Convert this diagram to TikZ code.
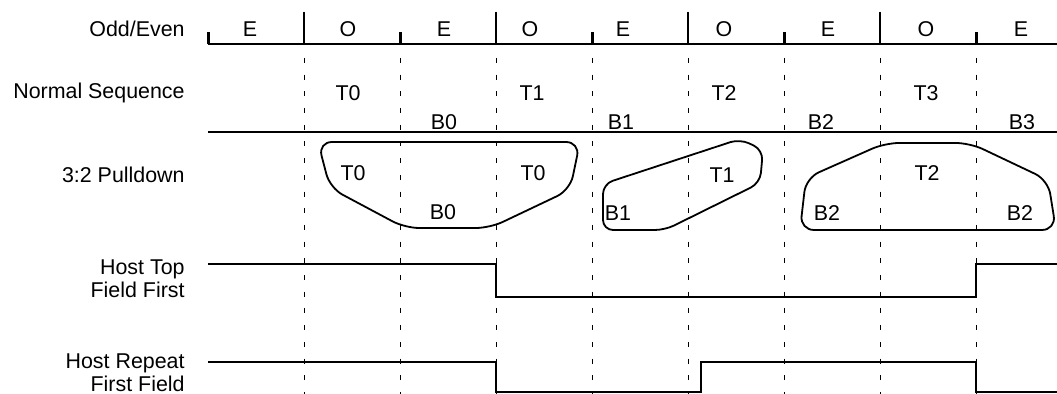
\documentclass[tikz,border=0pt]{standalone}
\usepackage{fontspec}
\setmainfont{Liberation Sans}
\usepackage{tikz}

\tikzset{
  rowlabel/.style={anchor=east, align=right, inner sep=0pt},
  field/.style={inner sep=0pt},
  wave/.style={line width=1pt, line join=miter},
  slot/.style={line width=0.5pt, dash pattern=on 2.5pt off 5.85pt},
  group/.style={line width=0.9pt, rounded corners=7pt},
}

\begin{document}
\begin{tikzpicture}[x=0.5pt, y=-0.5pt, font=\fontsize{10.7}{11.5}\selectfont]
  \useasboundingbox (0,0) rectangle (1057,394);
  % row labels
  \node[rowlabel] (oddeven) at (185,29) {Odd/Even};
  \node[rowlabel] (normal) at (185,93) {Normal Sequence};
  \node[rowlabel] (pulldown) at (185,175) {3:2 Pulldown};
  \node[rowlabel] (topfirst) at (185,279) {Host Top\\Field First};
  \node[rowlabel] (repeat) at (185,373) {Host Repeat\\First Field};
  % field grid
  \foreach \x in {304,400,...,976}
    \draw[slot] (\x,58) -- (\x,394);
  % odd/even ruler
  \draw[wave] (208,44) -- (1057,44);
  \foreach \x in {304,496,688,880}
    \draw[wave] (\x,12) -- (\x,44);
  \foreach \x in {208,400,592,784,976}
    \draw[line width=1.5pt] (\x,32) -- (\x,44);
  \foreach \x/\t [count=\i] in {250/E,348/O,444/E,530/O,623/E,724/O,828/E,926/O,1021/E}
    \node[field] (oe\i) at (\x,29) {\t};
  % normal sequence
  \foreach \x/\t in {348/0,532/1,724/2,926/3}
    \node[field] (top\t) at (\x,93) {T\t};
  \foreach \x/\t in {444/0,621/1,821/2,1022/3}
    \node[field] (bot\t) at (\x,122) {B\t};
  \draw[wave] (208,132) -- (1057,132);
  % 3:2 pulldown
  \node[field] (pdtopa) at (353,173) {T0};
  \node[field] (pdbota) at (443,212) {B0};
  \node[field] (pdtopb) at (533,173) {T0};
  \node[field] (pdbotb) at (618,213) {B1};
  \node[field] (pdtopc) at (722,175) {T1};
  \node[field] (pdbotc) at (827,213) {B2};
  \node[field] (pdtopd) at (927,173) {T2};
  \node[field] (pdbotd) at (1020,213) {B2};
  \draw[group] (318,142) -- (580,142) -- (570,190) -- (490,228) -- (405,228) -- (330,188) -- cycle;
  \draw[group, rounded corners=5pt] (603,230) -- (603,184) -- (740,139) -- (763,150) -- (760,183) -- (665,230) -- cycle;
  \draw[group] (800,230) -- (806,178) -- (885,143) -- (970,143) -- (1048,180) -- (1056,230) -- cycle;
  % host signals
  \draw[wave] (208,264) -- (496,264) -- (496,297) -- (976,297) -- (976,264) -- (1057,264);
  \draw[wave] (208,362) -- (496,362) -- (496,392) -- (701,392) -- (701,362)
    -- (976,362) -- (976,392) -- (1057,392);
\end{tikzpicture}
\end{document}
